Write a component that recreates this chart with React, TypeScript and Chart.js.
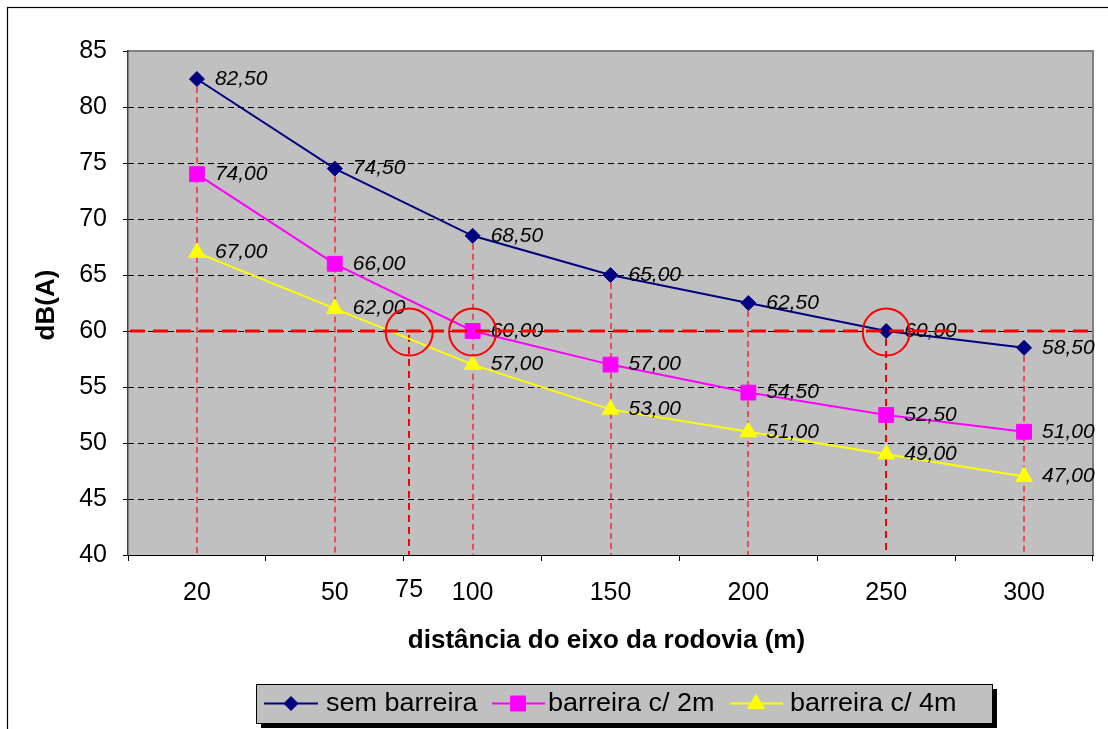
import React, { useEffect, useRef } from 'react';
import { Chart, registerables } from 'chart.js';

Chart.register(...registerables);

// ---- data ----
const categories = ['20', '50', '100', '150', '200', '250', '300'];
const semBarreira = [82.5, 74.5, 68.5, 65, 62.5, 60, 58.5];
const barreira2m = [74, 66, 60, 57, 54.5, 52.5, 51];
const barreira4m = [67, 62, 57, 53, 51, 49, 47];
const seriesNames = ['sem barreira', 'barreira c/ 2m', 'barreira c/ 4m'];
const yMin = 40;
const yMax = 85;
const yStep = 5;
const limitLevel = 60;
const extraTickLabel = '75';
const extraTickIndex = 1.54; // position between "50" and "100"
const circleIndices = [1.54, 2, 5];
const xTitle = 'distância do eixo da rodovia (m)';
const yTitle = 'dB(A)';

const FONT = '"Liberation Sans", Arial, Helvetica, sans-serif';
const colors = ['#000080', '#FF00FF', '#FFFF00'];
const pointStyles = ['rectRot', 'rect', 'triangle'];
const pointRadii = [7.5, 10.5, 9.5];

const fmt = (v: number) => v.toFixed(2).replace('.', ',');

function drawMarker(ctx: CanvasRenderingContext2D, style: string, cx: number, cy: number, color: string) {
  ctx.save();
  ctx.fillStyle = color;
  ctx.strokeStyle = color;
  ctx.lineWidth = 1;
  ctx.beginPath();
  if (style === 'rectRot') {
    ctx.moveTo(cx - 7, cy);
    ctx.lineTo(cx, cy - 7);
    ctx.lineTo(cx + 7, cy);
    ctx.lineTo(cx, cy + 7);
  } else if (style === 'rect') {
    ctx.rect(cx - 7.5, cy - 7.5, 15, 15);
  } else {
    ctx.moveTo(cx, cy - 9);
    ctx.lineTo(cx + 8.5, cy + 5);
    ctx.lineTo(cx - 8.5, cy + 5);
  }
  ctx.closePath();
  ctx.fill();
  ctx.stroke();
  ctx.restore();
}

const decorPlugin = {
  id: 'decor',
  beforeDraw(chart: any) {
    const { ctx, chartArea: a } = chart;
    const y = chart.scales.y;
    ctx.save();
    ctx.fillStyle = '#FFFFFF';
    ctx.fillRect(0, 0, chart.width, chart.height);
    // outer frame
    ctx.strokeStyle = '#000000';
    ctx.lineWidth = 1.2;
    ctx.strokeRect(7.5, 7.5, 2000, 2000);
    // plot background
    ctx.fillStyle = '#C0C0C0';
    ctx.fillRect(a.left, a.top, a.right - a.left, a.bottom - a.top);
    // grid lines
    ctx.strokeStyle = '#000000';
    ctx.lineWidth = 1;
    ctx.setLineDash([6, 4]);
    for (let v = yMin + yStep; v < yMax; v += yStep) {
      const py = Math.round(y.getPixelForValue(v)) + 0.5;
      ctx.beginPath();
      ctx.moveTo(a.left, py);
      ctx.lineTo(a.right, py);
      ctx.stroke();
    }
    ctx.setLineDash([]);
    // plot border (top/right)
    ctx.strokeStyle = '#808080';
    ctx.lineWidth = 2;
    ctx.beginPath();
    ctx.moveTo(a.left, a.top);
    ctx.lineTo(a.right, a.top);
    ctx.lineTo(a.right, a.bottom);
    ctx.stroke();
    ctx.restore();
  },
  beforeDatasetsDraw(chart: any) {
    const { ctx, chartArea: a } = chart;
    const x = chart.scales.x;
    const y = chart.scales.y;
    ctx.save();
    // drop lines from top point of each category
    for (let i = 0; i < categories.length; i++) {
      const top = Math.max(semBarreira[i], barreira2m[i], barreira4m[i]);
      const px = Math.round(x.getPixelForValue(i));
      const thick = i === 5;
      ctx.strokeStyle = thick ? '#FF0000' : '#F82828';
      ctx.lineWidth = thick ? 2 : 1.5;
      ctx.setLineDash(thick ? [7, 5] : [6, 4]);
      ctx.beginPath();
      ctx.moveTo(px, y.getPixelForValue(top) + 8);
      ctx.lineTo(px, a.bottom);
      ctx.stroke();
    }
    // drop line at extra label
    const ex = Math.round(x.getPixelForValue(extraTickIndex));
    ctx.strokeStyle = '#FF0000';
    ctx.lineWidth = 2;
    ctx.setLineDash([7, 5]);
    ctx.beginPath();
    ctx.moveTo(ex, y.getPixelForValue(limitLevel) + 4);
    ctx.lineTo(ex, a.bottom);
    ctx.stroke();
    ctx.restore();
  },
  afterDatasetsDraw(chart: any) {
    const { ctx, chartArea: a } = chart;
    const x = chart.scales.x;
    const y = chart.scales.y;
    ctx.save();
    // data labels
    ctx.fillStyle = '#000000';
    ctx.font = `italic 21px ${FONT}`;
    ctx.textAlign = 'left';
    ctx.textBaseline = 'middle';
    chart.data.datasets.forEach((ds: any, di: number) => {
      const meta = chart.getDatasetMeta(di);
      meta.data.forEach((pt: any, i: number) => {
        ctx.fillText(fmt(ds.data[i]), pt.x + 18, pt.y);
      });
    });
    // limit line
    const ly = y.getPixelForValue(limitLevel);
    ctx.strokeStyle = '#FF0000';
    ctx.lineWidth = 3;
    ctx.setLineDash([15, 8]);
    ctx.beginPath();
    ctx.moveTo(a.left + 2, ly);
    ctx.lineTo(a.right - 2, ly);
    ctx.stroke();
    ctx.setLineDash([]);
    // circles
    ctx.lineWidth = 2;
    circleIndices.forEach((ci) => {
      ctx.beginPath();
      ctx.arc(x.getPixelForValue(ci), ly + 1, 23.5, 0, Math.PI * 2);
      ctx.stroke();
    });
    // extra tick label
    ctx.fillStyle = '#000000';
    ctx.font = `25px ${FONT}`;
    ctx.textAlign = 'center';
    ctx.textBaseline = 'middle';
    ctx.fillText(extraTickLabel, x.getPixelForValue(extraTickIndex), 590);
    // axis titles
    ctx.font = `bold 26px ${FONT}`;
    ctx.fillText(xTitle, (a.left + a.right) / 2 - 4, 641);
    ctx.save();
    ctx.translate(47, 305);
    ctx.rotate(-Math.PI / 2);
    ctx.fillText(yTitle, 0, 0);
    ctx.restore();
    // legend
    const bx = 256, by = 684, bw = 736, bh = 39;
    ctx.fillStyle = '#000000';
    ctx.fillRect(bx + 5, by + 5, bw, bh);
    ctx.fillStyle = '#C0C0C0';
    ctx.fillRect(bx, by, bw, bh);
    ctx.strokeStyle = '#000000';
    ctx.lineWidth = 1;
    ctx.strokeRect(bx + 0.5, by + 0.5, bw, bh);
    const items = [
      [264, 318, 291, 326],
      [492, 545, 518, 548],
      [730, 783, 756, 790],
    ];
    const cy = by + bh / 2;
    items.forEach((it, k) => {
      ctx.strokeStyle = colors[k];
      ctx.lineWidth = 2;
      ctx.beginPath();
      ctx.moveTo(it[0], cy);
      ctx.lineTo(it[1], cy);
      ctx.stroke();
      drawMarker(ctx, pointStyles[k], it[2], cy, colors[k]);
      ctx.save();
      ctx.translate(it[3], cy + 1);
      ctx.scale(1.08, 1);
      ctx.fillStyle = '#000000';
      ctx.font = `25px ${FONT}`;
      ctx.textAlign = 'left';
      ctx.textBaseline = 'middle';
      ctx.fillText(seriesNames[k], 0, 0);
      ctx.restore();
    });
    ctx.restore();
  },
};

export default function App() {
  const ref = useRef<HTMLCanvasElement | null>(null);
  useEffect(() => {
    if (!ref.current) return;
    const series = [semBarreira, barreira2m, barreira4m];
    const chart = new Chart(ref.current, {
      type: 'line',
      data: {
        labels: categories,
        datasets: series.map((d, k) => ({
          label: seriesNames[k],
          data: d,
          borderColor: colors[k],
          backgroundColor: colors[k],
          pointBackgroundColor: colors[k],
          pointBorderColor: colors[k],
          pointStyle: pointStyles[k] as any,
          pointRadius: pointRadii[k],
          pointBorderWidth: 1,
          borderWidth: 2,
          tension: 0,
          fill: false,
        })),
      },
      options: {
        responsive: false,
        animation: false,
        devicePixelRatio: 1,
        layout: { padding: { left: 0, top: 51, right: 15, bottom: 0 } },
        plugins: {
          legend: { display: false },
          tooltip: { enabled: false },
          title: { display: false },
        },
        scales: {
          x: {
            type: 'category',
            offset: true,
            grid: {
              offset: true,
              drawOnChartArea: false,
              drawTicks: true,
              tickLength: 6,
              tickColor: '#000000',
              tickWidth: 1,
            },
            border: { display: true, color: '#000000', width: 1 },
            ticks: {
              color: '#000000',
              font: { family: FONT, size: 25 },
              padding: 17,
              maxRotation: 0,
              autoSkip: false,
            },
            afterFit: (s: any) => {
              s.height = 174;
            },
          },
          y: {
            min: yMin,
            max: yMax,
            grid: {
              drawOnChartArea: false,
              drawTicks: true,
              tickLength: 5,
              tickColor: '#000000',
            },
            border: { display: true, color: '#404040', width: 1.5 },
            ticks: {
              stepSize: yStep,
              color: '#000000',
              font: { family: FONT, size: 25 },
              padding: 16,
            },
            afterFit: (s: any) => {
              s.width = 128;
            },
          },
        },
      },
      plugins: [decorPlugin],
    } as any);
    return () => chart.destroy();
  }, []);
  return (
    <div style={{ position: 'absolute', left: 0, top: 0, width: 1108, height: 729 }}>
      <canvas ref={ref} width={1108} height={729} style={{ width: 1108, height: 729, display: 'block' }} />
    </div>
  );
}
